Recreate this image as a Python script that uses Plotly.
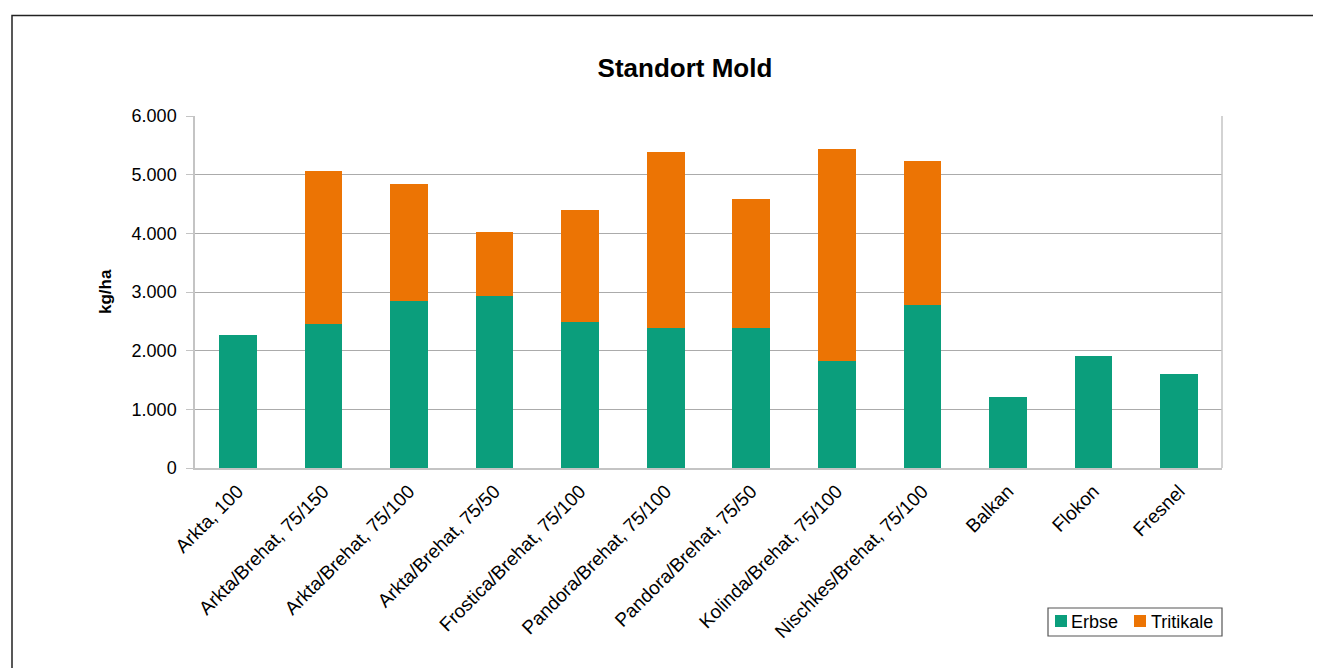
import plotly.graph_objects as go

categories = ["Arkta, 100", "Arkta/Brehat, 75/150", "Arkta/Brehat, 75/100", "Arkta/Brehat, 75/50",
              "Frostica/Brehat, 75/100", "Pandora/Brehat, 75/100", "Pandora/Brehat, 75/50",
              "Kolinda/Brehat, 75/100", "Nischkes/Brehat, 75/100", "Balkan", "Flokon", "Fresnel"]
erbse = [2260, 2460, 2840, 2930, 2490, 2390, 2390, 1820, 2770, 1215, 1910, 1595]
tritikale = [0, 2600, 2000, 1085, 1910, 2990, 2190, 3610, 2465, 0, 0, 0]
y_ticks = [0, 1000, 2000, 3000, 4000, 5000, 6000]
series_names = ["Erbse", "Tritikale"]
series_colors = ["#0b9e7c", "#ec7404"]

# figure is placed at (8,8) in the page
W, H = 1313, 660
L, R, T, B = 187, 99, 108, 200
pw, ph = W - L - R, H - T - B

def px(fx):   # figure x pixel -> paper x
    return (fx - L) / pw

def py(fy):   # figure y pixel -> paper y
    return (H - B - fy) / ph

FONT = "Liberation Sans, Arial, Helvetica, sans-serif"

fig = go.Figure()
for name, vals, col in zip(series_names, [erbse, tritikale], series_colors):
    fig.add_trace(go.Bar(x=categories, y=vals, name=name,
                         marker=dict(color=col, line=dict(width=0))))

fig.update_layout(
    width=W, height=H,
    barmode="stack", bargap=0.56,
    separators=",.",
    paper_bgcolor="white", plot_bgcolor="white",
    font=dict(family=FONT, color="black", size=18),
    margin=dict(l=L, r=R, t=T, b=B, autoexpand=False),
    title=dict(text="<b>Standort Mold</b>", x=px(677), xref="paper", xanchor="center",
               y=1 - 60 / H, yanchor="middle", font=dict(size=26, color="black")),
    showlegend=False,
    xaxis=dict(tickangle=-45, showgrid=False, showline=True, linecolor="#c4c4c4", linewidth=1.5,
               ticks="", tickfont=dict(size=19), ticklabelstandoff=3),
    yaxis=dict(range=[0, 6000], tickvals=y_ticks, tickformat=",d", showgrid=True,
               gridcolor="#ababab", gridwidth=1, showline=True, linecolor="#c4c4c4", linewidth=1.5,
               ticks="outside", ticklen=7, tickcolor="#c4c4c4", tickfont=dict(size=18),
               ticklabelstandoff=6, zeroline=False),
)

# y-axis title
fig.add_annotation(text="<b>kg/ha</b>", xref="paper", yref="paper", x=px(97), y=0.5,
                   textangle=-90, showarrow=False, font=dict(size=17, color="black"),
                   xanchor="center", yanchor="middle")

# plot-area right border
fig.add_shape(type="line", xref="paper", yref="paper", x0=1, x1=1, y0=0, y1=1,
              line=dict(color="#c4c4c4", width=1.5))
# outer chart border
fig.add_shape(type="rect", xref="paper", yref="paper",
              x0=px(4), x1=px(1330), y0=py(700), y1=py(7.5),
              line=dict(color="#222222", width=1.5), fillcolor="rgba(0,0,0,0)", layer="below")

# legend (box, swatches, labels)
fig.add_shape(type="rect", xref="paper", yref="paper",
              x0=px(1040), x1=px(1214), y0=py(628), y1=py(600),
              line=dict(color="#555555", width=1.2), fillcolor="white")
sw_x = [1047, 1126]
tx_x = [1061, 1141]
for name, col, sx, tx in zip(series_names, series_colors, sw_x, tx_x):
    fig.add_shape(type="rect", xref="paper", yref="paper",
                  x0=px(sx), x1=px(sx + 12), y0=py(619), y1=py(607),
                  line=dict(width=0), fillcolor=col)
    fig.add_annotation(text=name, xref="paper", yref="paper", x=px(tx), y=py(614),
                       xanchor="left", yanchor="middle", showarrow=False,
                       font=dict(size=18, color="black"))

fig.write_html("out.html")
